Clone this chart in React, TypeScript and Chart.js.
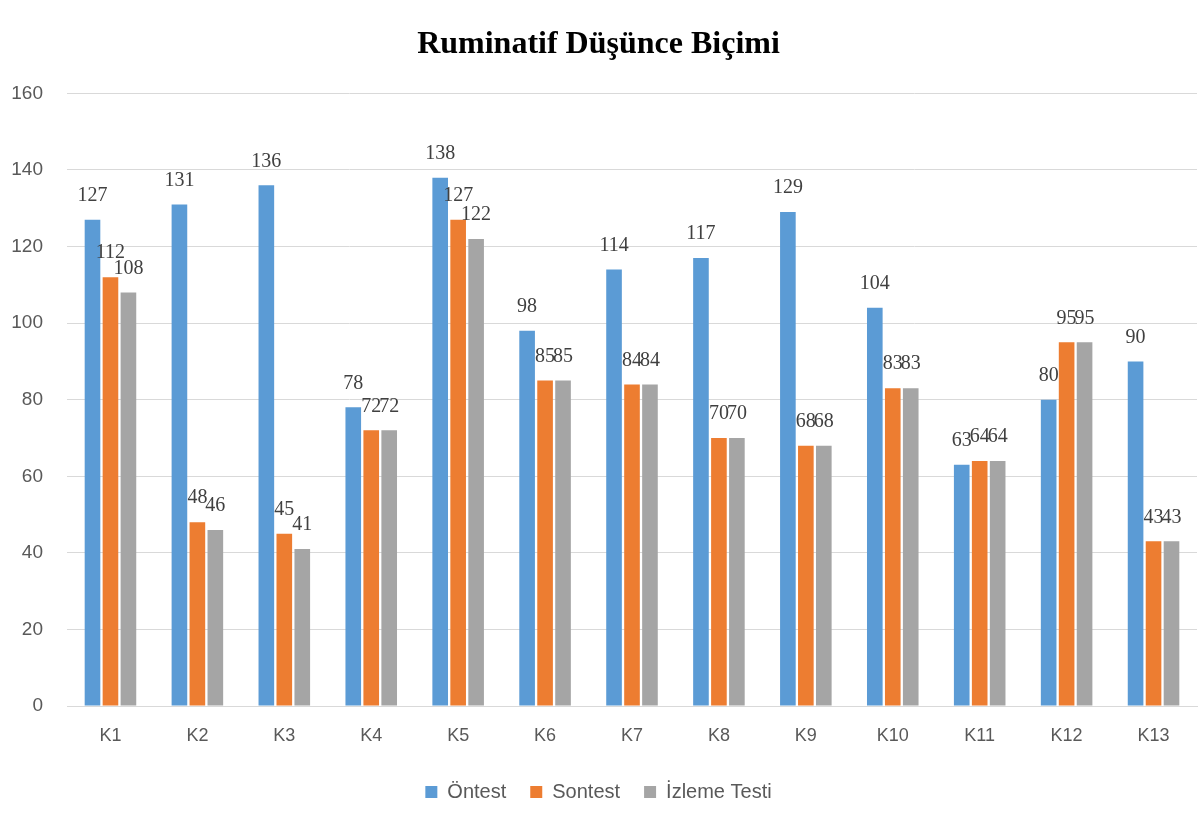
import React, { useEffect, useRef } from "react";
import { Chart, registerables } from "chart.js";

Chart.register(...registerables);

const categories = ["K1", "K2", "K3", "K4", "K5", "K6", "K7", "K8", "K9", "K10", "K11", "K12", "K13"];
const ontest = [127, 131, 136, 78, 138, 98, 114, 117, 129, 104, 63, 80, 90];
const sontest = [112, 48, 45, 72, 127, 85, 84, 70, 68, 83, 64, 95, 43];
const izleme = [108, 46, 41, 72, 122, 85, 84, 70, 68, 83, 64, 95, 43];
const seriesNames = ["Öntest", "Sontest", "İzleme Testi"];
const titleText = "Ruminatif Düşünce Biçimi";

const valueLabels = {
  id: "valueLabels",
  afterDatasetsDraw(chart: any) {
    const ctx = chart.ctx;
    ctx.save();
    ctx.font = "20px 'Liberation Serif', 'Times New Roman', serif";
    ctx.fillStyle = "#404040";
    ctx.textAlign = "center";
    ctx.textBaseline = "middle";
    chart.data.datasets.forEach((ds: any, i: number) => {
      const meta = chart.getDatasetMeta(i);
      meta.data.forEach((bar: any, j: number) => {
        ctx.fillText(String(ds.data[j]), bar.x, bar.y - 24);
      });
    });
    ctx.restore();
  },
};

export default function App() {
  const ref = useRef<HTMLCanvasElement>(null);
  useEffect(() => {
    document.body.style.margin = "0";
    const sans = "'Liberation Sans', Arial, sans-serif";
    const chart = new Chart(ref.current!, {
      type: "bar",
      data: {
        labels: categories,
        datasets: [
          { label: seriesNames[0], data: ontest, backgroundColor: "#5B9BD5" },
          { label: seriesNames[1], data: sontest, backgroundColor: "#ED7D31" },
          { label: seriesNames[2], data: izleme, backgroundColor: "#A5A5A5" },
        ],
      },
      options: {
        animation: false,
        responsive: false,
        maintainAspectRatio: false,
        datasets: { bar: { categoryPercentage: 0.62, barPercentage: 0.87 } },
        layout: { padding: { left: 0, right: 2, top: 0, bottom: 10 } },
        plugins: {
          title: {
            display: true,
            text: titleText,
            color: "#000000",
            font: { family: "'Liberation Serif', 'Times New Roman', serif", size: 32, weight: "bold" },
            padding: { top: 26, bottom: 29 },
          },
          legend: {
            position: "bottom",
            labels: {
              boxWidth: 12,
              boxHeight: 12,
              color: "#595959",
              font: { family: sans, size: 20 },
              padding: 24,
            },
          },
          tooltip: { enabled: false },
        },
        scales: {
          x: {
            grid: { display: false, drawTicks: false },
            border: { color: "#D9D9D9" },
            ticks: {
              color: "#595959",
              font: { family: sans, size: 18 },
              padding: 19,
            },
            afterFit: (scale: any) => {
              scale.height = 52;
            },
          },
          y: {
            min: 0,
            max: 160,
            grid: { color: "#D9D9D9", drawTicks: false },
            border: { display: false },
            ticks: {
              stepSize: 20,
              color: "#595959",
              font: { family: sans, size: 19 },
              padding: 24,
            },
            afterFit: (scale: any) => {
              scale.width = 67;
            },
          },
        },
      },
      plugins: [valueLabels],
    } as any);
    return () => chart.destroy();
  }, []);
  return (
    <div style={{ width: 1199, height: 822, background: "#fff" }}>
      <canvas ref={ref} width={1199} height={822} />
    </div>
  );
}
